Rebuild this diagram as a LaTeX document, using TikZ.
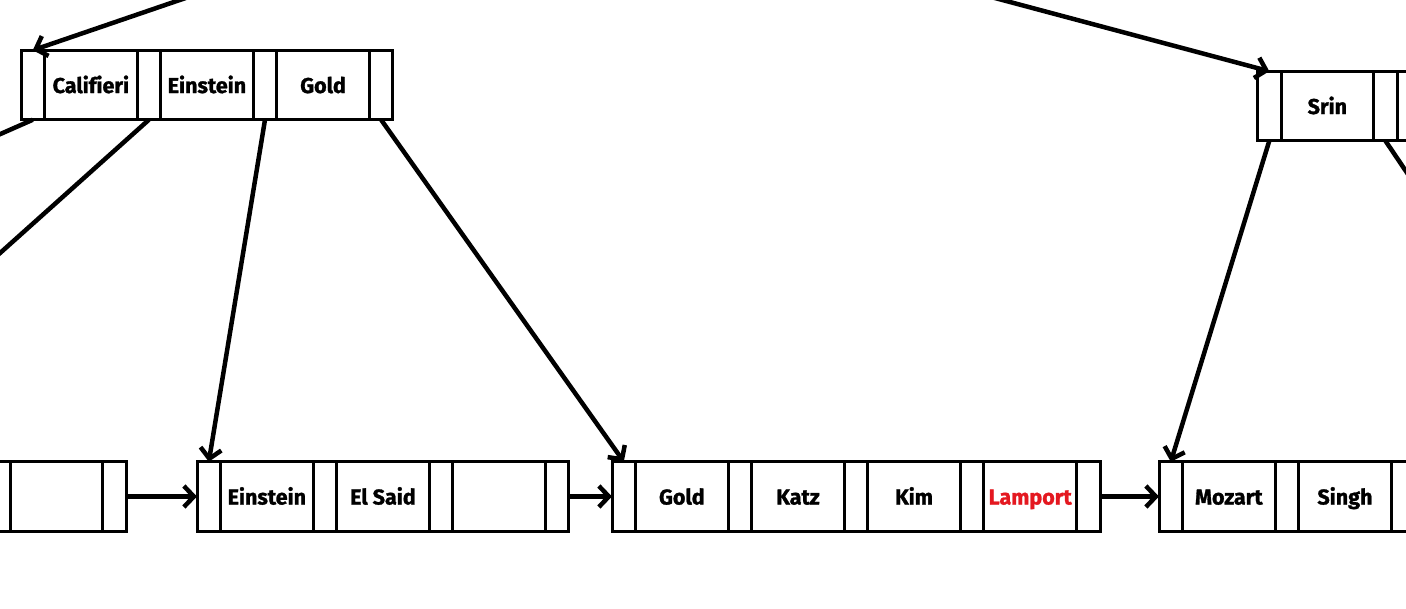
\documentclass[tikz,border=0pt]{standalone}
\usepackage{fontspec}
\setmainfont{Fira Sans}[Ligatures=CommonOff, BoldFeatures={FakeBold=1.3}]
\usepackage{xcolor}
\usetikzlibrary{positioning,arrows.meta}
\definecolor{newkey}{RGB}{228,24,32}

\begin{document}
\begin{tikzpicture}[
    x = 1pt, y = -1pt,
    > = {Straight Barb[length=10pt,width=21pt]},
    node distance = 0pt,
    cell/.style={draw, line width=3pt, minimum height=69.5pt, inner sep=0pt, outer sep=0pt,
        text height=16pt, text depth=0pt, font=\fontsize{21.5}{25}\selectfont\bfseries},
    ptr/.style={cell, minimum width=23.6pt},
    key/.style={cell, minimum width=92.5pt},
    link/.style={line width=4.5pt}
]
    \useasboundingbox (0,0) rectangle (1406,608);

    % inner nodes
    \node[ptr] (s0) at (32.8,85) {};
    \node[key, right=of s0] (s1k) {Califieri};
    \node[ptr, right=of s1k] (s1) {};
    \node[key, right=of s1] (s2k) {Einstein};
    \node[ptr, right=of s2k] (s2) {};
    \node[key, right=of s2] (s3k) {Gold};
    \node[ptr, right=of s3k] (s3) {};

    \node[ptr] (t0) at (1269.3,106) {};
    \node[key, right=of t0] (t1k) {Srin};
    \node[ptr, right=of t1k] (t1) {};
    \node[key, right=of t1] (t2k) {};

    % leaves
    \node[ptr] (a0) at (-1.5,496.5) {};
    \node[key, right=of a0] (a1k) {};
    \node[ptr, right=of a1k] (a1) {};

    \node[ptr] (b0) at (208.8,496.5) {};
    \node[key, right=of b0] (b1k) {Einstein};
    \node[ptr, right=of b1k] (b1) {};
    \node[key, right=of b1] (b2k) {El Said};
    \node[ptr, right=of b2k] (b2) {};
    \node[key, right=of b2] (b3k) {};
    \node[ptr, right=of b3k] (b3) {};

    \node[ptr] (c0) at (623.8,496.5) {};
    \node[key, right=of c0] (c1k) {Gold};
    \node[ptr, right=of c1k] (c1) {};
    \node[key, right=of c1] (c2k) {Katz};
    \node[ptr, right=of c2k] (c2) {};
    \node[key, right=of c2] (c3k) {Kim};
    \node[ptr, right=of c3k] (c3) {};
    \node[key, right=of c3, text=newkey] (c4k) {Lamport};
    \node[ptr, right=of c4k] (c4) {};

    \node[ptr] (d0) at (1170.8,496.5) {};
    \node[key, right=of d0] (d1k) {Mozart};
    \node[ptr, right=of d1k] (d1) {};
    \node[key, right=of d1] (d2k) {Singh};
    \node[ptr, right=of d2k] (d2) {};

    % ends off the page
    \coordinate (inS) at (209,-10);
    \coordinate (inT) at (965,-10);
    \coordinate (outS0) at (-20,143);
    \coordinate (outS1) at (-20,271);
    \coordinate (outT1) at (1426,201);

    \path[link, ->]
        (inS) edge (s0.north)
        (inT) edge (t0.north)
        (s2.south) edge (b0.north)
        (s3.south) edge (c0.north)
        (t0.south) edge (d0.north)
        (a1.east) edge (b0.west)
        (b3.east) edge (c0.west)
        (c4.east) edge (d0.west);
    \path[link]
        (s0.south) edge (outS0)
        (s1.south) edge (outS1)
        (t1.south) edge (outT1);
\end{tikzpicture}
\end{document}
